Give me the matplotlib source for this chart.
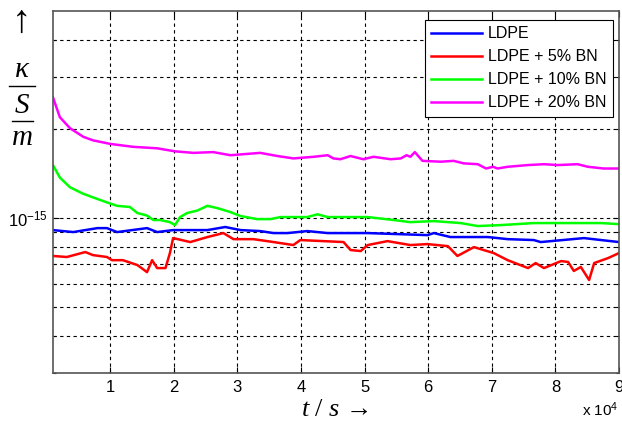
import matplotlib
matplotlib.use("Agg")
import matplotlib.pyplot as plt
from matplotlib.ticker import NullFormatter, FixedLocator
from matplotlib.lines import Line2D

plt.rcParams['font.family'] = ['Liberation Sans', 'DejaVu Sans']
plt.rcParams['mathtext.fontset'] = 'custom'
plt.rcParams['mathtext.rm'] = 'Liberation Sans'
plt.rcParams['mathtext.it'] = 'Liberation Serif:italic'

# time in units of 1e4 s, conductivity in units of 1e-15 S/m
t_ldpe = [0.10, 0.42, 0.80, 0.95, 1.11, 1.58, 1.74, 1.99, 2.53, 2.81, 3.05, 3.36, 3.57, 3.79,
          4.10, 4.42, 5.05, 5.99, 6.09, 6.35, 6.94, 7.25, 7.66, 7.77, 8.45, 8.72, 9.0]
k_ldpe = [0.911, 0.897, 0.925, 0.925, 0.897, 0.925, 0.897, 0.911, 0.911, 0.933, 0.911, 0.904,
          0.890, 0.890, 0.904, 0.890, 0.890, 0.876, 0.890, 0.863, 0.863, 0.849, 0.843, 0.830,
          0.856, 0.843, 0.830]

t_bn5 = [0.10, 0.32, 0.61, 0.73, 0.95, 1.03, 1.20, 1.43, 1.58, 1.66, 1.74, 1.87, 1.94, 1.99,
         2.26, 2.53, 2.78, 2.94, 3.25, 3.57, 3.88, 3.99, 4.67, 4.78, 4.94, 5.05, 5.36, 5.72,
         5.99, 6.31, 6.46, 6.72, 7.03, 7.25, 7.57, 7.69, 7.82, 8.09, 8.20, 8.29, 8.40, 8.53,
         8.61, 8.83, 9.0]
k_bn5 = [0.745, 0.739, 0.768, 0.750, 0.739, 0.721, 0.721, 0.694, 0.657, 0.721, 0.678, 0.678,
         0.762, 0.856, 0.830, 0.863, 0.890, 0.849, 0.849, 0.830, 0.811, 0.843, 0.830, 0.780,
         0.774, 0.811, 0.836, 0.811, 0.817, 0.804, 0.745, 0.798, 0.762, 0.721, 0.678, 0.705,
         0.678, 0.716, 0.711, 0.663, 0.684, 0.618, 0.705, 0.733, 0.762]

t_bn10 = [0.10, 0.21, 0.37, 0.57, 0.80, 1.0, 1.11, 1.31, 1.43, 1.58, 1.68, 1.79, 1.94, 2.02,
          2.10, 2.21, 2.37, 2.53, 2.69, 2.89, 3.05, 3.31, 3.52, 3.68, 4.10, 4.26, 4.42, 5.05,
          5.46, 5.72, 6.09, 6.51, 6.78, 7.14, 7.66, 8.20, 8.72, 9.0]
k_bn10 = [1.51, 1.37, 1.27, 1.21, 1.16, 1.12, 1.10, 1.09, 1.04, 1.02, 0.985, 0.985, 0.969,
          0.947, 1.008, 1.04, 1.06, 1.10, 1.08, 1.048, 1.016, 0.992, 0.992, 1.008, 1.008,
          1.03, 1.008, 1.008, 0.985, 0.969, 0.977, 0.962, 0.940, 0.947, 0.962, 0.962, 0.962,
          0.954]

t_bn20 = [0.10, 0.21, 0.37, 0.58, 0.73, 1.0, 1.36, 1.74, 2.02, 2.31, 2.62, 2.89, 3.05, 3.36,
          3.63, 3.88, 4.20, 4.42, 4.51, 4.62, 4.78, 4.98, 5.14, 5.41, 5.57, 5.66, 5.72, 5.79,
          5.91, 6.20, 6.40, 6.56, 6.78, 6.91, 7.02, 7.09, 7.25, 7.57, 7.82, 8.04, 8.35, 8.51,
          8.76, 9.0]
k_bn20 = [2.56, 2.19, 2.01, 1.88, 1.83, 1.78, 1.74, 1.72, 1.68, 1.66, 1.67, 1.63, 1.64, 1.66,
          1.62, 1.59, 1.61, 1.63, 1.59, 1.58, 1.62, 1.58, 1.61, 1.58, 1.59, 1.63, 1.61, 1.67,
          1.56, 1.55, 1.56, 1.53, 1.52, 1.47, 1.49, 1.47, 1.49, 1.51, 1.52, 1.51, 1.52, 1.49,
          1.47, 1.47]

labels = ['LDPE', 'LDPE + 5% BN', 'LDPE + 10% BN', 'LDPE + 20% BN']
colors = ['#0000ff', '#ff0000', '#00ff00', '#ff00ff']
series = [(t_ldpe, k_ldpe), (t_bn5, k_bn5), (t_bn10, k_bn10), (t_bn20, k_bn20)]
xtick_vals = [1, 2, 3, 4, 5, 6, 7, 8, 9]
xtick_labels = ['1', '2', '3', '4', '5', '6', '7', '8', '9']

fig = plt.figure(figsize=(6.22, 4.25), dpi=100)
ax = fig.add_axes([53/622, 52/425, 566/622, 362/425])

for (t, k), c, lab in zip(series, colors, labels):
    ax.plot([v * 1e4 for v in t], [v * 1e-15 for v in k], color=c, lw=1.8, label=lab)

ax.set_yscale('log')
ax.set_xlim(1020, 90000)
ax.set_ylim(3e-16, 5e-15)
ax.set_xticks([v * 1e4 for v in xtick_vals], labels=xtick_labels)
ax.yaxis.set_major_locator(FixedLocator([1e-15]))
ax.set_yticklabels([r'$\mathregular{10^{-15}}$'])
ax.yaxis.set_minor_locator(FixedLocator([3e-16, 4e-16, 5e-16, 6e-16, 7e-16, 8e-16, 9e-16,
                                         2e-15, 3e-15, 4e-15]))
ax.yaxis.set_minor_formatter(NullFormatter())

grid_kw = dict(color='black', linestyle=(0, (3, 3)), linewidth=0.8)
ax.grid(True, which='major', axis='x', **grid_kw)
ax.grid(True, which='both', axis='y', **grid_kw)
ax.set_axisbelow(True)

ax.tick_params(which='both', direction='in', top=True, right=True, labelsize=12,
               length=4, width=0.8, colors='black')
ax.tick_params(which='minor', length=2)
ax.tick_params(axis='x', pad=5)
ax.tick_params(axis='y', pad=4)
for s in ax.spines.values():
    s.set_color('#555555')
    s.set_linewidth(1.2)

leg = ax.legend(loc='upper right', bbox_to_anchor=(0.989, 0.975), borderaxespad=0,
                fontsize=11.5, handlelength=3.2, handletextpad=0.35, labelspacing=0.5,
                borderpad=0.4, fancybox=False, framealpha=1, edgecolor='black')
leg.get_frame().set_linewidth(0.8)

serif = ['Liberation Serif', 'DejaVu Serif']
fig.text(22/622, 1 - 22/425, '\u2191', family=serif, fontsize=28,
         ha='center', va='center')
fig.text(22/622, 1 - 70/425, '\u03ba', family=serif, style='italic', fontsize=21,
         ha='center', va='center')
fig.add_artist(Line2D([9/622, 35/622], [1 - 86/425, 1 - 86/425], color='black', lw=1.0))
fig.text(22/622, 1 - 106/425, 'S', family=serif, style='italic', fontsize=21,
         ha='center', va='center')
fig.add_artist(Line2D([12/622, 33/622], [1 - 121/425, 1 - 121/425], color='black', lw=1.0))
fig.text(22/622, 1 - 138/425, 'm', family=serif, style='italic', fontsize=21,
         ha='center', va='center')

fig.text(335/622, 1 - 410/425, '$t$ / $s$ \u2192', fontsize=19, ha='center', va='center',
         family=serif)
fig.text(600/622, 1 - 410/425, r'x $\mathregular{10^{4}}$', fontsize=11, ha='center',
         va='center')

fig.savefig('out.png', dpi=100)
